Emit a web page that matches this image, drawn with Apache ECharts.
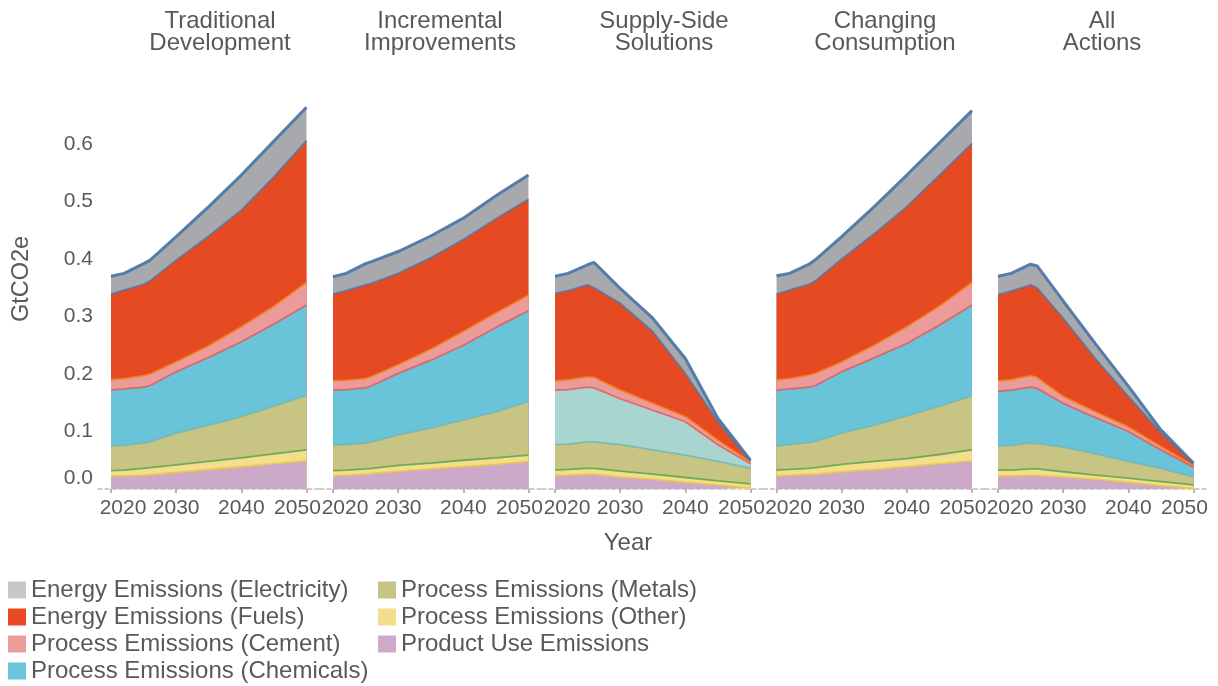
<!DOCTYPE html>
<html><head><meta charset="utf-8">
<script src="https://cdn.jsdelivr.net/npm/echarts@6/dist/echarts.min.js"></script>
<style>html,body{margin:0;padding:0;background:#fff}#c{width:1218px;height:686px}</style>
</head><body><div id="c"></div>
<script>
// ---------------- DATA ----------------
// years at which values were read off the source chart
const years = [2020, 2022, 2025, 2026, 2030, 2035, 2040, 2045, 2050];
const xTickYears = [2020, 2030, 2040, 2050];
const yTickValues = [0, 0.1, 0.2, 0.3, 0.4, 0.5, 0.6];
const scenarios = ['Traditional\nDevelopment', 'Incremental\nImprovements', 'Supply-Side\nSolutions', 'Changing\nConsumption', 'All\nActions'];
// stacking order: bottom -> top
const seriesNames = ['Product Use Emissions', 'Process Emissions (Other)', 'Process Emissions (Metals)',
  'Process Emissions (Chemicals)', 'Process Emissions (Cement)', 'Energy Emissions (Fuels)', 'Energy Emissions (Electricity)'];

// GtCO2e per series (rows follow seriesNames order), columns follow `years`
const traditionalDevelopment = [
  [0.023, 0.023, 0.024, 0.025, 0.029, 0.034, 0.039, 0.044, 0.049],
  [0.009, 0.010, 0.012, 0.012, 0.013, 0.014, 0.015, 0.017, 0.019],
  [0.043, 0.043, 0.044, 0.045, 0.055, 0.063, 0.072, 0.083, 0.095],
  [0.097, 0.098, 0.097, 0.098, 0.107, 0.118, 0.130, 0.143, 0.157],
  [0.018, 0.018, 0.020, 0.020, 0.017, 0.020, 0.026, 0.031, 0.039],
  [0.149, 0.154, 0.159, 0.162, 0.177, 0.191, 0.203, 0.225, 0.247],
  [0.031, 0.029, 0.036, 0.036, 0.041, 0.051, 0.061, 0.062, 0.058]
];
const incrementalImprovements = [
  [0.023, 0.024, 0.026, 0.027, 0.031, 0.035, 0.039, 0.043, 0.048],
  [0.009, 0.009, 0.009, 0.009, 0.010, 0.010, 0.011, 0.011, 0.011],
  [0.045, 0.044, 0.045, 0.046, 0.053, 0.061, 0.070, 0.080, 0.093],
  [0.095, 0.096, 0.096, 0.098, 0.107, 0.118, 0.130, 0.147, 0.158],
  [0.016, 0.016, 0.016, 0.016, 0.015, 0.019, 0.024, 0.025, 0.027],
  [0.151, 0.156, 0.163, 0.162, 0.159, 0.159, 0.160, 0.164, 0.167],
  [0.030, 0.030, 0.037, 0.038, 0.038, 0.038, 0.037, 0.040, 0.042]
];
const supplySideSolutions = [
  [0.024, 0.024, 0.026, 0.026, 0.021, 0.017, 0.012, 0.007, 0.002],
  [0.009, 0.010, 0.010, 0.010, 0.010, 0.009, 0.008, 0.007, 0.007],
  [0.044, 0.044, 0.046, 0.046, 0.046, 0.042, 0.039, 0.034, 0.027],
  [0.095, 0.095, 0.095, 0.094, 0.080, 0.069, 0.058, 0.029, 0.008],
  [0.016, 0.017, 0.018, 0.018, 0.015, 0.012, 0.009, 0.008, 0.003],
  [0.152, 0.155, 0.160, 0.156, 0.151, 0.125, 0.075, 0.032, 0.002],
  [0.030, 0.030, 0.035, 0.044, 0.026, 0.023, 0.026, 0.006, 0.001]
];
const changingConsumption = [
  [0.023, 0.024, 0.026, 0.026, 0.030, 0.034, 0.039, 0.044, 0.049],
  [0.010, 0.010, 0.010, 0.011, 0.013, 0.014, 0.014, 0.016, 0.019],
  [0.042, 0.043, 0.045, 0.046, 0.054, 0.063, 0.074, 0.084, 0.094],
  [0.097, 0.097, 0.096, 0.097, 0.107, 0.117, 0.126, 0.141, 0.158],
  [0.018, 0.018, 0.021, 0.021, 0.017, 0.022, 0.029, 0.033, 0.039],
  [0.149, 0.154, 0.158, 0.161, 0.179, 0.194, 0.209, 0.228, 0.242],
  [0.032, 0.029, 0.035, 0.037, 0.039, 0.047, 0.055, 0.056, 0.057]
];
const allActions = [
  [0.023, 0.023, 0.024, 0.024, 0.021, 0.017, 0.012, 0.006, 0.001],
  [0.010, 0.010, 0.011, 0.011, 0.009, 0.007, 0.007, 0.007, 0.006],
  [0.042, 0.043, 0.045, 0.044, 0.043, 0.037, 0.029, 0.023, 0.014],
  [0.095, 0.096, 0.097, 0.096, 0.076, 0.063, 0.052, 0.032, 0.017],
  [0.018, 0.018, 0.020, 0.019, 0.012, 0.010, 0.008, 0.006, 0.003],
  [0.150, 0.154, 0.158, 0.156, 0.136, 0.092, 0.053, 0.024, 0.003],
  [0.032, 0.031, 0.036, 0.038, 0.030, 0.026, 0.018, 0.005, 0.001]
];
const scenarioData = [traditionalDevelopment, incrementalImprovements, supplySideSolutions, changingConsumption, allActions];

// ---------------- STYLE ----------------
const fillColors = ['#cca9c8', '#f2de8c', '#c8c484', '#69c3d9', '#eb9c9a', '#e64a22', '#a8a9ad'];
const legendColors = ['#cdaac9', '#f2de8c', '#c8c484', '#6cc5db', '#eb9d9b', '#e64a22', '#c8c8c8'];
const strokeColors = ['#b279a2', '#eeca3b', '#54a24b', '#72b7b2', '#e45756', '#f58518', '#4c78a8'];
const supplyChemFill = '#a9d5d1';
const txt = '#595959';
const FONT = 'Liberation Sans, Arial, Helvetica, sans-serif';

const gridLefts = [98, 320, 542, 763.5, 985];
const gridW = 221.5, gridTop = 86.5, gridH = 402.5;
const titleX = [220, 440, 664, 885, 1102];

// running (stacked) totals of the bands, bottom -> top
function stackedTotals(d) {
  const out = [];
  let run = years.map(() => 0);
  for (let k = 0; k < d.length; k++) {
    run = run.map((v, i) => v + d[k][i]);
    out.push(run.slice());
  }
  return out;
}

const grids = [], xAxes = [], yAxes = [], series = [];
for (let f = 0; f < 5; f++) {
  grids.push({left: gridLefts[f], top: gridTop, width: gridW, height: gridH});
  xAxes.push({
    type: 'value', gridIndex: f, min: 2018, max: 2052,
    splitLine: {show: false},
    axisLine: {show: true, lineStyle: {color: '#bdbdbd', width: 1.5, type: [4, 3]}},
    axisTick: {show: true, customValues: xTickYears, length: 4, lineStyle: {color: '#a0a0a0', width: 1.5}},
    axisLabel: {
      show: true, customValues: xTickYears, margin: 9,
      fontFamily: FONT, fontSize: 21, color: txt,
      formatter: v => v === 2020 ? '{l|2020}' : (v === 2050 ? '{r|2050}' : '{n|' + v + '}'),
      rich: {
        l: {padding: [0, 0, 0, 24], fontFamily: FONT, fontSize: 21, color: txt},
        r: {padding: [0, 18, 0, 0], fontFamily: FONT, fontSize: 21, color: txt},
        n: {fontFamily: FONT, fontSize: 21, color: txt}
      }
    }
  });
  yAxes.push({
    type: 'value', gridIndex: f, min: 0, max: 0.7, interval: 0.1,
    splitLine: {show: false}, axisLine: {show: false}, axisTick: {show: false},
    axisLabel: {
      show: f === 0, margin: 5, fontFamily: FONT, fontSize: 21, color: txt,
      formatter: v => {
        const found = yTickValues.find(t => Math.abs(t - v) < 1e-9);
        if (found === undefined) return '';
        return found === 0 ? '{z|0.0}' : '{n|' + found.toFixed(1) + '}';
      },
      rich: {
        z: {padding: [0, 0, 22, 0], fontFamily: FONT, fontSize: 21, color: txt},
        n: {fontFamily: FONT, fontSize: 21, color: txt}
      }
    }
  });
  const tot = stackedTotals(scenarioData[f]);
  // area fills: draw from the top band downwards so each lower band covers the one above
  for (let k = 6; k >= 0; k--) {
    const fill = (f === 2 && k === 3) ? supplyChemFill : fillColors[k];
    series.push({
      type: 'line', name: seriesNames[k], xAxisIndex: f, yAxisIndex: f,
      symbol: 'none', silent: true, z: 2,
      lineStyle: {width: 0, opacity: 0},
      itemStyle: {color: legendColors[k]},
      areaStyle: {color: fill, opacity: 1, origin: 'start'},
      data: years.map((y, i) => [y, tot[k][i]])
    });
  }
  // boundary lines (coloured with the stroke of the band above, as in the source)
  for (let k = 0; k < 7; k++) {
    const sc = k < 6 ? strokeColors[k + 1] : strokeColors[6];
    series.push({
      type: 'line', name: seriesNames[k], xAxisIndex: f, yAxisIndex: f,
      symbol: 'none', silent: true, z: 3,
      lineStyle: {color: sc, width: k === 6 ? 3 : 1.8, opacity: k === 6 ? 0.95 : 0.8},
      itemStyle: {color: legendColors[k]},
      data: years.map((y, i) => [y, tot[k][i]])
    });
  }
}

const graphics = [];
scenarios.forEach((s, i) => {
  graphics.push({type: 'text', x: titleX[i], y: 10, silent: true,
    style: {text: s, fontFamily: FONT, fontSize: 24, lineHeight: 22, fill: txt, align: 'center', verticalAlign: 'top'}});
});
graphics.push({type: 'text', x: 628, y: 543, silent: true,
  style: {text: 'Year', fontFamily: FONT, fontSize: 24, fill: txt, align: 'center', verticalAlign: 'middle'}});
graphics.push({type: 'text', x: 22, y: 279, rotation: Math.PI / 2, silent: true,
  style: {text: 'GtCO2e', fontFamily: FONT, fontSize: 23.5, fill: txt, align: 'center', verticalAlign: 'middle'}});

const legendItem = k => ({name: seriesNames[k], itemStyle: {color: legendColors[k]}});
const legendCommon = {
  orient: 'vertical', icon: 'rect', itemWidth: 18, itemHeight: 17, itemGap: 3,
  selectedMode: false, padding: 0, height: 110,
  textStyle: {fontFamily: FONT, fontSize: 24, lineHeight: 24, color: txt}
};

const option = {
  animation: false,
  backgroundColor: '#fff',
  grid: grids, xAxis: xAxes, yAxis: yAxes, series: series,
  graphic: graphics,
  legend: [
    Object.assign({left: 8, top: 578, data: [6, 5, 4, 3].map(legendItem)}, legendCommon),
    Object.assign({left: 378, top: 578, data: [2, 1, 0].map(legendItem)}, legendCommon)
  ]
};
const chart = echarts.init(document.getElementById('c'), null, {renderer: 'canvas'});
chart.setOption(option);
</script></body></html>
